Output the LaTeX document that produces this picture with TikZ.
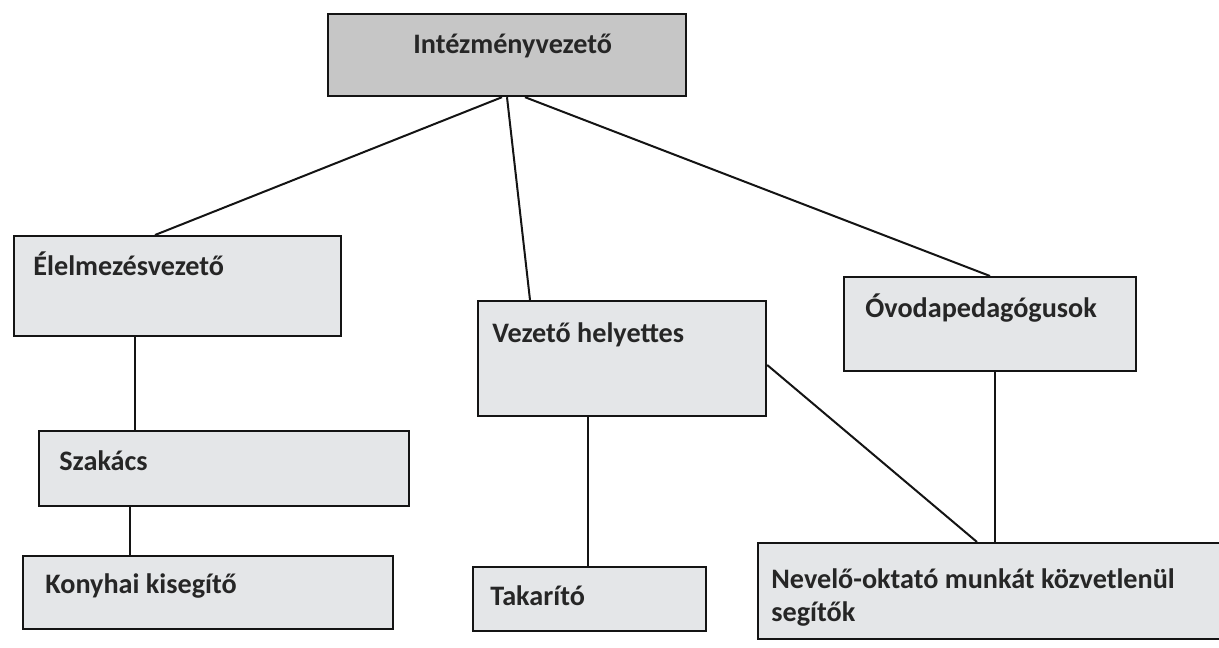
\documentclass[tikz,border=0pt]{standalone}
\usepackage{fontspec}
\setmainfont{Carlito}
\usetikzlibrary{calc}
\definecolor{topfill}{RGB}{198,198,198}
\definecolor{boxfill}{RGB}{228,230,232}
\definecolor{inkc}{RGB}{20,20,20}
\tikzset{
  orgbox/.style={draw=inkc, line width=1.1pt, fill=boxfill, inner sep=0pt, anchor=north west},
  topbox/.style={orgbox, fill=topfill},
  lbl/.style={anchor=base west, inner sep=0pt, font=\fontsize{14.1}{18}\selectfont\bfseries, text=black!85},
  link/.style={draw=inkc, line width=1pt}
}
\newcommand{\mkbox}[6]{%
  \node[#6, minimum width={(#4-#2)*0.5pt}, minimum height={(#5-#3)*0.5pt}] (#1) at (#2,#3) {};}
\begin{document}
\begin{tikzpicture}[x=0.5pt,y=-0.5pt]
\useasboundingbox (0,0) rectangle (1219,647);
% boxes
\mkbox{top}{327}{13}{685}{95}{topbox}
\mkbox{elel}{13}{235}{340}{335}{orgbox}
\mkbox{vez}{477}{300}{765}{415}{orgbox}
\mkbox{ovoda}{843}{276}{1135}{370}{orgbox}
\mkbox{szak}{38}{430}{408}{505}{orgbox}
\mkbox{kony}{22}{555}{392}{628}{orgbox}
\mkbox{tak}{472}{566}{705}{630}{orgbox}
\mkbox{nev}{757}{542}{1235}{638}{orgbox}
% labels
\node[lbl] (top-t) at (413,54) {Intézményvezető};
\node[lbl] (elel-t) at (33,275) {Élelmezésvezető};
\node[lbl] (vez-t) at (492,342) {Vezető helyettes};
\node[lbl] (ovoda-t) at (865,317) {Óvodapedagógusok};
\node[lbl] (szak-t) at (59,470) {Szakács};
\node[lbl] (kony-t) at (45,593) {Konyhai kisegítő};
\node[lbl] (tak-t) at (490,605) {Takarító};
\node[lbl] (nev-t1) at (771,588) {Nevelő-oktató munkát közvetlenül};
\node[lbl] (nev-t2) at (771,621) {segítők};
% connectors
\draw[link] ($(top.south west)+(175,0)$) -- ($(elel.north west)+(142,0)$);
\draw[link] ($(top.south west)+(180,0)$) -- ($(vez.north west)+(53,0)$);
\draw[link] ($(top.south west)+(198,0)$) -- ($(ovoda.north west)+(147,0)$);
\draw[link] ($(elel.south west)+(122,0)$) -- ($(szak.north west)+(97,0)$);
\draw[link] ($(szak.south west)+(92,0)$) -- ($(kony.north west)+(108,0)$);
\draw[link] ($(vez.south west)+(111,0)$) -- ($(tak.north west)+(116,0)$);
\draw[link] ($(vez.north east)+(0,65)$) -- ($(nev.north west)+(220,0)$);
\draw[link] ($(ovoda.south west)+(152,0)$) -- ($(nev.north west)+(238,0)$);
\end{tikzpicture}
\end{document}
